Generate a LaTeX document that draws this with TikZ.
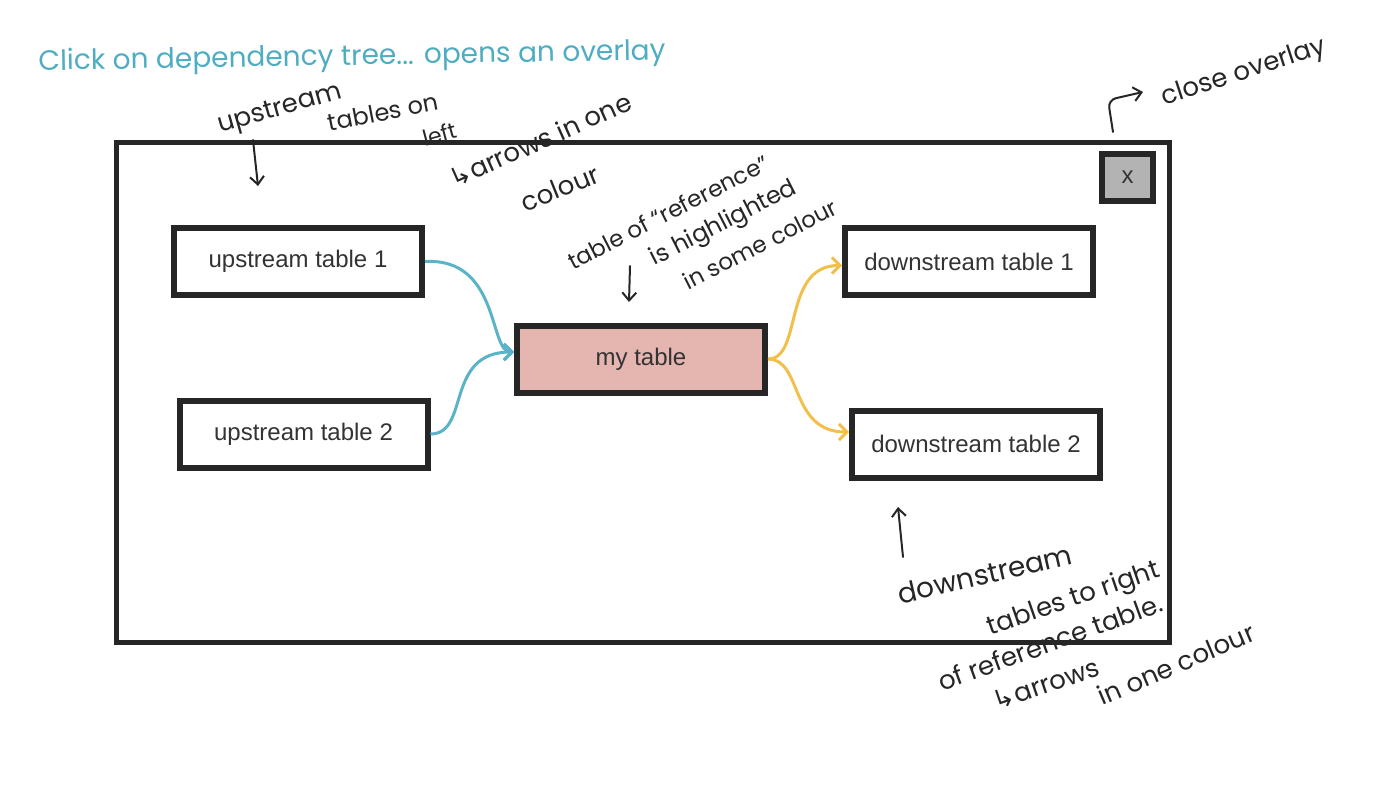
\documentclass[tikz,border=0pt]{standalone}
\usepackage{fontspec}
\setmainfont{Liberation Sans}
\newfontfamily\handfont{Poppins}
\newfontfamily\symbolfont{DejaVu Sans}
\usetikzlibrary{arrows.meta, positioning}
\definecolor{ink}{HTML}{262626}
\definecolor{labelgray}{HTML}{333333}
\definecolor{upblue}{HTML}{5BB3C7}
\definecolor{titleteal}{HTML}{4FADC2}
\definecolor{downgold}{HTML}{F0C04A}
\definecolor{refpink}{HTML}{E5B5B0}
\definecolor{btngray}{HTML}{B3B3B3}
\newcommand\handsize[1]{\handfont\fontsize{#1}{#1}\selectfont}

\begin{document}
\begin{tikzpicture}[
			x=0.5pt, y=-0.5pt,
			every node/.style={font=\fontsize{12}{14}\selectfont, text=labelgray},
			panelbox/.style={rectangle, draw=ink, line width=2.5pt, minimum width=526.5pt, minimum height=250pt, inner sep=0pt},
			tablebox/.style={rectangle, draw=ink, line width=3pt, fill=white, minimum width=124pt, minimum height=33.5pt, inner sep=0pt},
			reftable/.style={tablebox, fill=refpink},
			closebtn/.style={rectangle, draw=ink, line width=3pt, fill=btngray, minimum width=25.5pt, minimum height=23.5pt, inner sep=0pt},
			uplink/.style={-{Straight Barb[length=4pt, width=8pt]}, line width=1.5pt, upblue},
			downlink/.style={-{Straight Barb[length=4pt, width=8pt]}, line width=1.5pt, downgold},
			note/.style={font=\handsize{13}, text=ink, inner sep=0pt, rotate=#1},
			note/.default=0,
			pointer/.style={-{Straight Barb[length=4pt, width=7pt]}, line width=1pt, ink, line cap=round}
			]

			\useasboundingbox (0,0) rectangle (1380,786);

			% overlay window and close button
			\node[panelbox] (panel) at (643,392.5) {};
			\node[closebtn, below left=5.5pt and 8pt of panel.north east] (close) {x};

			% tables
			\node[tablebox] (up1) at (298,261.5) {upstream table 1};
			\node[tablebox] (up2) at (303.5,434) {upstream table 2};
			\node[reftable] (mine) at (641,359) {my table};
			\node[tablebox] (down1) at (969,261.5) {downstream table 1};
			\node[tablebox] (down2) at (976,444) {downstream table 2};

			\draw[uplink] (up1.east) .. controls +(75,-4) and +(-25,0) .. ([yshift=3.5pt]mine.west);
			\draw[uplink] (up2.east) .. controls +(40,0) and +(-70,0) .. ([yshift=3.5pt]mine.west);
			\draw[downlink] (mine.east) .. controls +(35,0) and +(-60,0) .. ([yshift=-2pt]down1.west);
			\draw[downlink] (mine.east) .. controls +(35,0) and +(-60,0) .. ([yshift=6pt]down2.west);

			% notes
			\node[note=1, text=titleteal, font=\handsize{14}] (title) at (352,58) {Click on dependency tree... opens an overlay};

			\node[note=16] (upnote1) at (280,110) {upstream};
			\node[note=11, font=\handsize{12}] (upnote2) at (383,112) {tables on};
			\node[note=15, font=\handsize{11}] (upnote3) at (440,134) {left};
			\node[note=24, font=\handsize{13}] (upnote4) at (540,140) {{\symbolfont ↳}arrows in one};
			\node[note=22] (upnote5) at (560,188) {colour};
			\coordinate (uptail) at (253,140);
			\coordinate (uphead) at (258,186);
			\draw[pointer] (uptail) -- (uphead);

			\node[note=27, font=\handsize{11.5}] (refnote1) at (668,212) {table of “reference”};
			\node[note=27, font=\handsize{12}] (refnote2) at (724,224) {is highlighted};
			\node[note=27, font=\handsize{11.5}] (refnote3) at (760,244) {in some colour};
			\coordinate (reftail) at (630,266);
			\coordinate (refhead) at (629,302);
			\draw[pointer] (reftail) -- (refhead);

			\node[note=18] (closenote) at (1244,73) {close overlay};
			\coordinate (closetail) at (1113,132);
			\coordinate (closebend) at (1108,100);
			\coordinate (closehead) at (1143,92);
			\draw[pointer, rounded corners=4pt] (closetail) -- (closebend) -- (closehead);

			\node[note=13, font=\handsize{14}] (downnote1) at (985,574) {downstream};
			\node[note=19] (downnote2) at (1074,600) {tables to right};
			\node[note=20] (downnote3) at (1050,642) {of reference table.};
			\node[note=19] (downnote4) at (1046,684) {{\symbolfont ↳}arrows};
			\node[note=23] (downnote5) at (1176,664) {in one colour};
			\coordinate (downtail) at (903,557);
			\coordinate (downhead) at (898,507);
			\draw[pointer] (downtail) -- (downhead);

		\end{tikzpicture}
\end{document}
